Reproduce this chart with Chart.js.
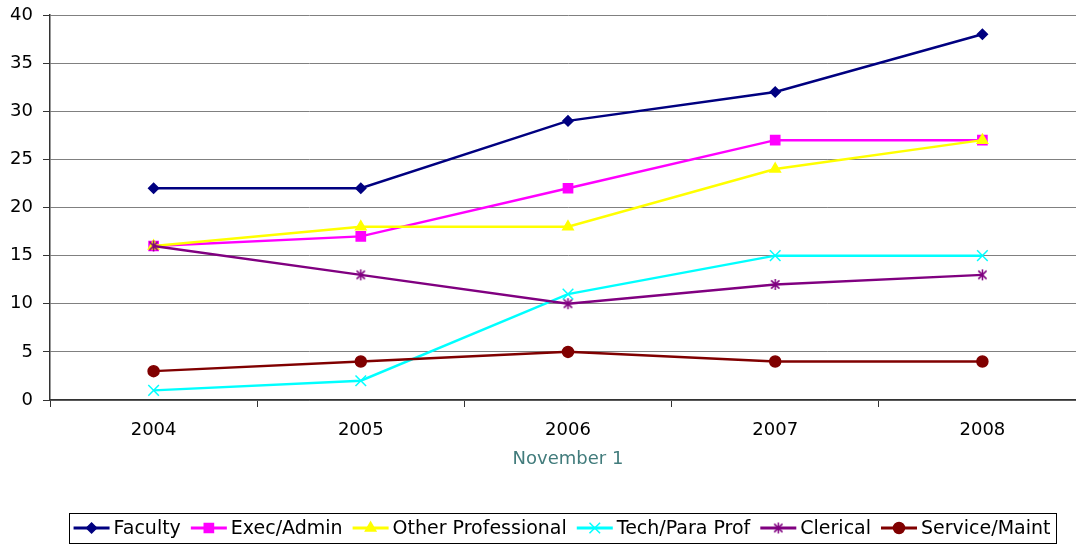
<!DOCTYPE html>
<html>
<head>
<meta charset="utf-8">
<script src="https://cdn.jsdelivr.net/npm/chart.js@4.4.1/dist/chart.umd.min.js"></script>
<style>
  html, body { margin: 0; padding: 0; background: #fff; overflow: hidden; }
  #wrap { width: 1086px; height: 544px; }
  canvas { display: block; }
</style>
</head>
<body>
<div id="wrap"><canvas id="staffChart" width="1086" height="544"></canvas></div>
<script>
// Staff counts by category, November 1 of each year
const years = ['2004', '2005', '2006', '2007', '2008'];
const faculty = [22, 22, 29, 32, 38];
const execAdmin = [16, 17, 22, 27, 27];
const otherProfessional = [16, 18, 18, 24, 27];
const techParaProf = [1, 2, 11, 15, 15];
const clerical = [16, 13, 10, 12, 13];
const serviceMaint = [3, 4, 5, 4, 4];
const yTicks = [0, 5, 10, 15, 20, 25, 30, 35, 40];

const FONT = '"DejaVu Sans", Verdana, sans-serif';

// Excel-style asterisk marker (vertical bar + X)
function asterisk(color, size) {
  const c = document.createElement('canvas');
  c.width = c.height = size;
  const g = c.getContext('2d');
  const m = size / 2, r = size / 2 - 1, d = r * 0.75;
  g.strokeStyle = color;
  g.lineWidth = 1.5;
  g.beginPath();
  g.moveTo(m, m - r); g.lineTo(m, m + r);
  g.moveTo(m - d, m - d); g.lineTo(m + d, m + d);
  g.moveTo(m + d, m - d); g.lineTo(m - d, m + d);
  g.stroke();
  return c;
}

function series(label, data, color, pointStyle, radius) {
  return {
    label: label,
    data: data,
    borderColor: color,
    backgroundColor: color,
    pointBackgroundColor: color,
    pointBorderColor: color,
    pointStyle: pointStyle,
    pointRadius: radius,
    pointHoverRadius: radius,
    pointBorderWidth: 1.5,
    borderWidth: 2.5,
    tension: 0,
    fill: false
  };
}

const datasets = [
  series('Faculty', faculty, '#000080', 'rectRot', 5),
  series('Exec/Admin', execAdmin, '#ff00ff', 'rect', 6.5),
  series('Other Professional', otherProfessional, '#ffff00', 'triangle', 6),
  series('Tech/Para Prof', techParaProf, '#00ffff', 'crossRot', 7.5),
  series('Clerical', clerical, '#800080', asterisk('#800080', 13), 6),
  series('Service/Maint', serviceMaint, '#800000', 'circle', 5.5)
];
// later series sit on top, like the original
datasets.forEach((ds, i) => { ds.order = datasets.length - i; });

// Boxed legend with line + marker samples
const legendCenter = 562;
const boxLegend = {
  id: 'boxLegend',
  afterDraw(chart) {
    const ctx = chart.ctx;
    const lineLen = 36, textGap = 4, itemGap = 10, padX = 5;
    const cy = 528;
    ctx.save();
    ctx.font = '19px ' + FONT;
    const items = chart.data.datasets.map(ds => ({ ds, w: ctx.measureText(ds.label).width }));
    const total = items.reduce((s, it) => s + lineLen + textGap + it.w, 0) + itemGap * (items.length - 1);
    let x = legendCenter - total / 2;

    ctx.strokeStyle = '#000';
    ctx.lineWidth = 1;
    ctx.strokeRect(Math.round(x - padX) + 0.5, 513.5, Math.round(total + 2 * padX), 30);

    items.forEach(it => {
      const ds = it.ds;
      ctx.strokeStyle = ds.borderColor;
      ctx.lineWidth = 3;
      ctx.beginPath();
      ctx.moveTo(x, cy);
      ctx.lineTo(x + lineLen, cy);
      ctx.stroke();

      ctx.fillStyle = ds.pointBackgroundColor;
      ctx.strokeStyle = ds.pointBorderColor;
      ctx.lineWidth = ds.pointBorderWidth;
      Chart.helpers.drawPoint(ctx, {
        pointStyle: ds.pointStyle,
        radius: ds.pointRadius,
        borderWidth: ds.pointBorderWidth,
        rotation: 0
      }, x + lineLen / 2, cy);

      ctx.fillStyle = '#000';
      ctx.textAlign = 'left';
      ctx.textBaseline = 'middle';
      ctx.fillText(ds.label, x + lineLen + textGap, cy + 1);
      x += lineLen + textGap + it.w + itemGap;
    });
    ctx.restore();
  }
};

new Chart(document.getElementById('staffChart').getContext('2d'), {
  type: 'line',
  data: { labels: years, datasets: datasets },
  options: {
    responsive: false,
    animation: false,
    layout: { autoPadding: false, padding: { top: 15, right: 0, bottom: 69, left: 0 } },
    plugins: {
      legend: { display: false },
      tooltip: { enabled: false }
    },
    scales: {
      x: {
        offset: true,
        grid: { offset: true, drawOnChartArea: false, tickLength: 7, tickColor: '#333', lineWidth: 1 },
        border: { color: '#333', width: 1.5 },
        ticks: { color: '#000', font: { family: FONT, size: 18 }, padding: 13 },
        title: {
          display: true,
          text: 'November 1',
          color: '#427c7c',
          font: { family: FONT, size: 18 },
          padding: { top: 8, bottom: 5 }
        },
        afterFit(scale) {
          scale.height = 75;
          scale.paddingLeft = 0;
          scale.paddingRight = 0;
        }
      },
      y: {
        min: 0,
        max: 40,
        afterBuildTicks(scale) { scale.ticks = yTicks.map(v => ({ value: v })); },
        ticks: { color: '#000', font: { family: FONT, size: 18 }, padding: 10 },
        grid: { color: '#808080', tickLength: 7, tickColor: '#333', lineWidth: 1 },
        border: { color: '#333', width: 1.5 },
        afterFit(scale) {
          scale.width = 50;
          scale.paddingTop = 0;
          scale.paddingBottom = 0;
        }
      }
    }
  },
  plugins: [boxLegend]
});
</script>
</body>
</html>
